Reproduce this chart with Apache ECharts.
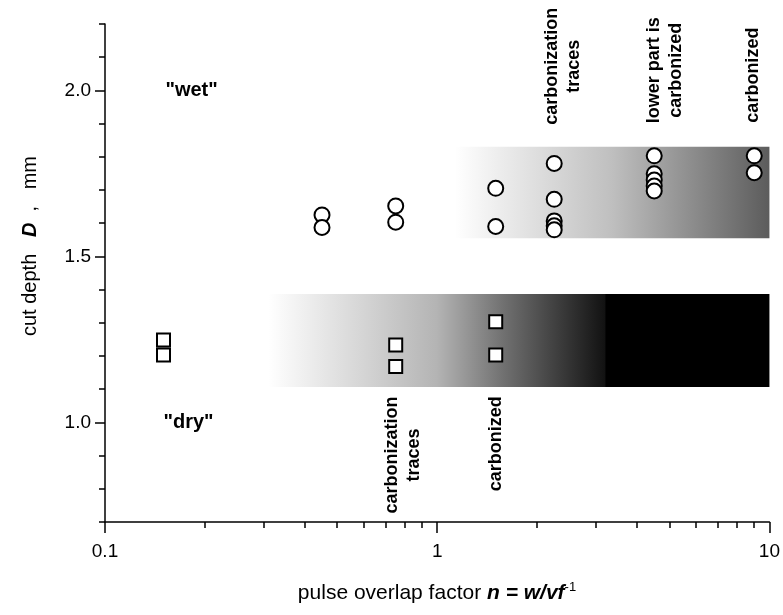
<!DOCTYPE html>
<html>
<head>
<meta charset="utf-8">
<script src="https://cdn.jsdelivr.net/npm/echarts@6/dist/echarts.min.js"></script>
<style>
html, body { margin: 0; padding: 0; background: #fff; }
#chart { width: 783px; height: 615px; }
</style>
</head>
<body>
<div id="chart"></div>
<script>
// "wet" cuts, circles: [n, D]
const wetPoints = [
  [0.45, 1.625], [0.45, 1.587],
  [0.75, 1.652], [0.75, 1.603],
  [1.5, 1.705], [1.5, 1.59],
  [2.25, 1.78], [2.25, 1.672], [2.25, 1.607], [2.25, 1.592], [2.25, 1.58],
  [4.5, 1.803], [4.5, 1.749], [4.5, 1.73], [4.5, 1.712], [4.5, 1.697],
  [9, 1.803], [9, 1.752],
];
// "dry" cuts, squares
const dryPoints = [
  [0.15, 1.248], [0.15, 1.203],
  [0.75, 1.233], [0.75, 1.168],
  [1.5, 1.303], [1.5, 1.203],
];
// shaded regions [n from, n to, D from, D to]
const wetBand = [[1.13, 10, 1.555, 1.83]];
const dryBand = [[0.31, 3.2, 1.107, 1.387]];
const darkBand = [[3.2, 10, 1.107, 1.387]];

const xMajor = [0.1, 1, 10];
const xMinor = [0.2, 0.3, 0.4, 0.5, 0.6, 0.7, 0.8, 0.9, 2, 3, 4, 5, 6, 7, 8, 9];
const yMajor = [1.0, 1.5, 2.0];
const yMinor = [0.7, 0.8, 0.9, 1.1, 1.2, 1.3, 1.4, 1.6, 1.7, 1.8, 1.9, 2.1, 2.2];

// annotations: text, n, D (centre of the text block)
const notes = [
  { text: '"wet"', x: 0.152, y: 2.0, rotate: false },
  { text: '"dry"', x: 0.15, y: 1.0, rotate: false },
  { text: 'carbonization\ntraces', x: 2.4, y: 2.073, rotate: true },
  { text: 'lower part is\ncarbonized', x: 4.84, y: 2.061, rotate: true },
  { text: 'carbonized', x: 8.92, y: 2.046, rotate: true },
  { text: 'carbonization\ntraces', x: 0.787, y: 0.902, rotate: true },
  { text: 'carbonized', x: 1.507, y: 0.936, rotate: true },
];

const FONT = '"Liberation Sans", Arial, sans-serif';
const chart = echarts.init(document.getElementById('chart'));

const bandItem = (stops) => (params, api) => {
  const p0 = api.coord([api.value(0), api.value(3)]);
  const p1 = api.coord([api.value(1), api.value(2)]);
  return {
    type: 'rect',
    shape: { x: p0[0], y: p0[1], width: p1[0] - p0[0], height: p1[1] - p0[1] },
    style: { fill: new echarts.graphic.LinearGradient(0, 0, 1, 0, stops) },
  };
};

const axisLine = { show: true, lineStyle: { color: '#000', width: 1.5 } };

chart.setOption({
  backgroundColor: '#fff',
  animation: false,
  grid: { left: 105, right: 13, top: 24, bottom: 93 },
  xAxis: [
    {
      type: 'log',
      logBase: 10,
      min: 0.1,
      max: 10,
      axisLine: axisLine,
      splitLine: { show: false },
      axisTick: { show: true, customValues: xMajor, length: 11, lineStyle: { color: '#000', width: 1.5 } },
      axisLabel: {
        customValues: xMajor,
        margin: 20,
        color: '#000',
        fontSize: 19,
        fontFamily: FONT,
        formatter: (v) => String(Math.round(v * 10) / 10),
      },
    },
    {
      type: 'log',
      logBase: 10,
      min: 0.1,
      max: 10,
      position: 'bottom',
      axisLine: { show: false },
      splitLine: { show: false },
      axisTick: { show: true, customValues: xMinor, length: 6, lineStyle: { color: '#000', width: 1.5 } },
      axisLabel: { show: false },
    },
  ],
  yAxis: [
    {
      type: 'value',
      min: 0.7,
      max: 2.2,
      axisLine: axisLine,
      splitLine: { show: false },
      axisTick: { show: true, customValues: yMajor, length: 10, lineStyle: { color: '#000', width: 1.5 } },
      axisLabel: {
        customValues: yMajor,
        margin: 14,
        color: '#000',
        fontSize: 19,
        fontFamily: FONT,
        formatter: (v) => v.toFixed(1),
      },
    },
    {
      type: 'value',
      min: 0.7,
      max: 2.2,
      position: 'left',
      axisLine: { show: false },
      splitLine: { show: false },
      axisTick: { show: true, customValues: yMinor, length: 6, lineStyle: { color: '#000', width: 1.5 } },
      axisLabel: { show: false },
    },
  ],
  series: [
    {
      type: 'custom',
      z: 1,
      renderItem: bandItem([
        { offset: 0, color: '#ffffff' },
        { offset: 0.5, color: '#bfbfbf' },
        { offset: 1, color: '#5c5c5c' },
      ]),
      encode: { x: [0, 1], y: [2, 3] },
      data: wetBand,
      silent: true,
    },
    {
      type: 'custom',
      z: 1,
      renderItem: bandItem([
        { offset: 0, color: '#ffffff' },
        { offset: 0.5, color: '#b4b4b4' },
        { offset: 0.7, color: '#707070' },
        { offset: 1, color: '#121212' },
      ]),
      encode: { x: [0, 1], y: [2, 3] },
      data: dryBand,
      silent: true,
    },
    {
      type: 'custom',
      z: 1,
      renderItem: bandItem([
        { offset: 0, color: '#000' },
        { offset: 1, color: '#000' },
      ]),
      encode: { x: [0, 1], y: [2, 3] },
      data: darkBand,
      silent: true,
    },
    {
      type: 'scatter',
      z: 3,
      symbol: 'circle',
      symbolSize: 15,
      itemStyle: { color: '#fff', borderColor: '#000', borderWidth: 2, opacity: 1 },
      data: wetPoints,
    },
    {
      type: 'scatter',
      z: 3,
      symbol: 'rect',
      symbolSize: 13,
      itemStyle: { color: '#fff', borderColor: '#000', borderWidth: 2, opacity: 1 },
      data: dryPoints,
    },
  ],
});

// text annotations placed in data coordinates
const graphics = notes.map((n) => {
  const p = chart.convertToPixel({ xAxisIndex: 0, yAxisIndex: 0 }, [n.x, n.y]);
  return {
    type: 'text',
    x: p[0],
    y: p[1],
    rotation: n.rotate ? Math.PI / 2 : 0,
    z: 10,
    style: {
      text: n.text,
      fill: '#000',
      fontSize: n.rotate ? 18 : 20,
      fontWeight: 'bold',
      fontFamily: FONT,
      lineHeight: 22,
      align: n.rotate ? 'center' : 'left',
      verticalAlign: 'middle',
    },
  };
});

graphics.push({
  type: 'text',
  x: 30,
  y: 246,
  rotation: Math.PI / 2,
  style: {
    text: '{a|cut depth   }{b|D}{a|  ,   mm}',
    align: 'center',
    verticalAlign: 'middle',
    rich: {
      a: { fontSize: 20, fontFamily: FONT, fill: '#000' },
      b: { fontSize: 20, fontFamily: FONT, fontWeight: 'bold', fontStyle: 'italic', fill: '#000' },
    },
  },
});
graphics.push({
  type: 'text',
  x: 437,
  y: 593,
  style: {
    text: '{a|pulse overlap factor }{b|n = w/vf}{c|-1}',
    align: 'center',
    verticalAlign: 'middle',
    rich: {
      a: { fontSize: 21, fontFamily: FONT, fill: '#000', lineHeight: 24 },
      b: { fontSize: 21, fontFamily: FONT, fontWeight: 'bold', fontStyle: 'italic', fill: '#000', lineHeight: 24 },
      c: { fontSize: 13, fontFamily: FONT, fill: '#000', verticalAlign: 'top', lineHeight: 24, padding: [0, 0, 8, 0] },
    },
  },
});

chart.setOption({ graphic: graphics });
</script>
</body>
</html>
